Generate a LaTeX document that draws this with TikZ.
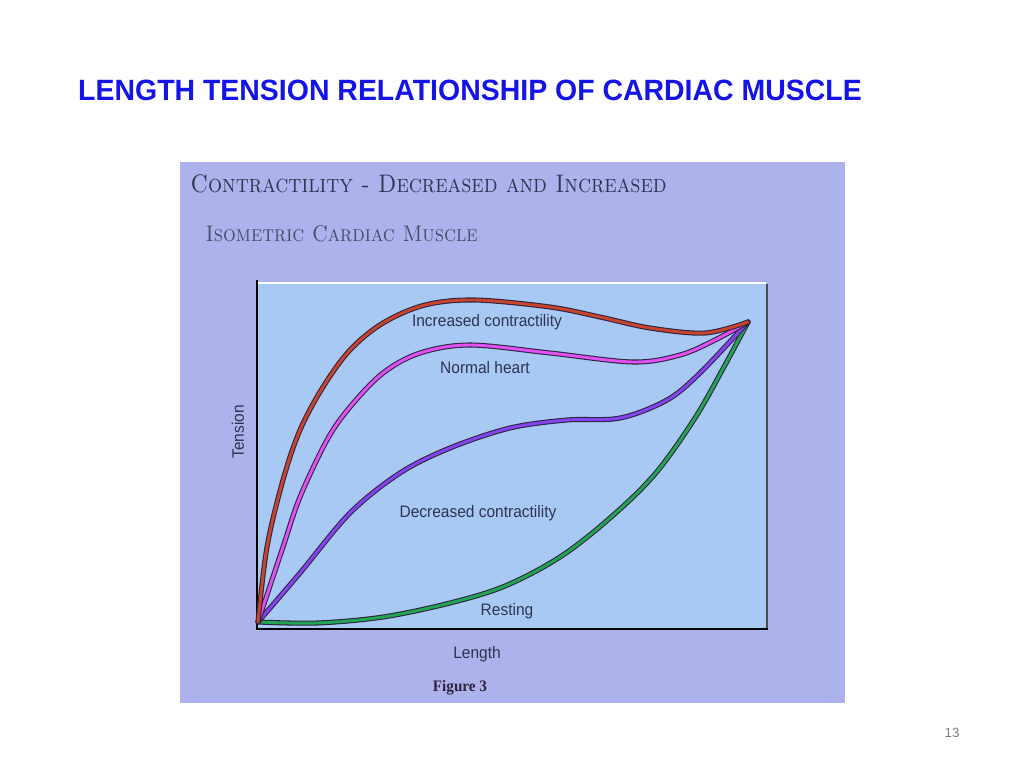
\documentclass[tikz,border=0pt]{standalone}
\usepackage{fontspec}
\usepackage{graphicx}
\usepackage{xcolor}
\newfontfamily\arialfont{Liberation Sans}
\newfontfamily\timesfont{Liberation Serif}
\definecolor{titleblue}{HTML}{1414E6}
\definecolor{panel}{HTML}{AEB2EC}
\definecolor{plotbg}{HTML}{A8C9F3}
\definecolor{ink}{HTML}{2E3452}
\definecolor{subink}{HTML}{454B68}
\definecolor{outline}{HTML}{2E2440}
\definecolor{redc}{HTML}{C8442C}
\definecolor{magc}{HTML}{E050F2}
\definecolor{purc}{HTML}{8444F0}
\definecolor{grnc}{HTML}{22A452}
\newcommand\narrow[2]{\scalebox{#1}[1]{#2}}
\tikzset{
  curve/.style={draw=outline, line width=0.8pt, double=#1, double distance=2.2pt, line cap=round},
  lbl/.style={text=ink, font=\arialfont\fontsize{12.5}{15}\selectfont, inner sep=0pt},
}

\begin{document}
\begin{tikzpicture}[x=0.75pt, y=-0.75pt]
    \useasboundingbox[fill=white] (0,0) rectangle (1024,768);
    \node[text=titleblue, font=\arialfont\bfseries\fontsize{22}{26}\selectfont] (title) at (470,90) {\narrow{0.97}{LENGTH TENSION RELATIONSHIP OF CARDIAC MUSCLE}};

    % panel and plot area
    \fill[panel] (180,162) rectangle (845,703);
    \fill[plotbg] (258,282) rectangle (767,629);
    \draw[white, line width=1pt] (258,283) -- (766,283);
    \draw[gray!60!black, line width=2pt] (767,284) -- (767,630);
    \draw[black, line width=1pt] (257,280) -- (257,629) -- (768,629);

    \node[anchor=west, text=ink, font=\scshape\fontsize{19}{22}\selectfont] (head) at (186,184) {\narrow{0.875}{Contractility - Decreased and Increased}};
    \node[anchor=west, text=subink, font=\scshape\fontsize{17}{20}\selectfont] (sub) at (201,234) {\narrow{0.89}{Isometric Cardiac Muscle}};

    \coordinate (o) at (258,622);
    \coordinate (e) at (748,322);

    % the four curves
    \draw[curve=grnc] plot[smooth, tension=0.55] coordinates {(o) (317,623) (383,617) (450,603) (505,586) (560,557) (610,518) (655,474) (695,418) (725,365) (e)};
    \draw[curve=purc] plot[smooth, tension=0.55] coordinates {(o) (300,573) (350,513) (400,473) (450,448) (510,428) (567,420) (620,418) (667,400) (700,373) (e)};
    \draw[curve=magc] plot[smooth, tension=0.55] coordinates {(o) (283,547) (300,497) (327,440) (350,407) (383,373) (420,353) (470,345) (550,353) (633,362) (680,355) (715,340) (e)};
    \draw[curve=redc] plot[smooth, tension=0.55] coordinates {(o) (267,547) (283,480) (300,430) (323,387) (350,350) (383,323) (425,305) (475,300) (550,307) (600,317) (650,328) (705,333) (e)};

    \node[lbl] (inc) at (487,322) {\narrow{0.93}{Increased contractility}};
    \node[lbl] (norm) at (485,368) {\narrow{0.93}{Normal heart}};
    \node[lbl] (dec) at (478,513) {\narrow{0.93}{Decreased contractility}};
    \node[lbl] (rest) at (507,611) {\narrow{0.93}{Resting}};
    \node[lbl] (len) at (477,654) {\narrow{0.93}{Length}};
    \node[lbl, rotate=90] (ten) at (238,432) {\narrow{0.93}{Tension}};
    \node[text=outline, font=\timesfont\bfseries\fontsize{12}{14}\selectfont] (fig) at (460,688) {\narrow{0.95}{Figure 3}};

    \node[text=gray, font=\arialfont\fontsize{10}{12}\selectfont] (page) at (952,733) {13};
\end{tikzpicture}
\end{document}
